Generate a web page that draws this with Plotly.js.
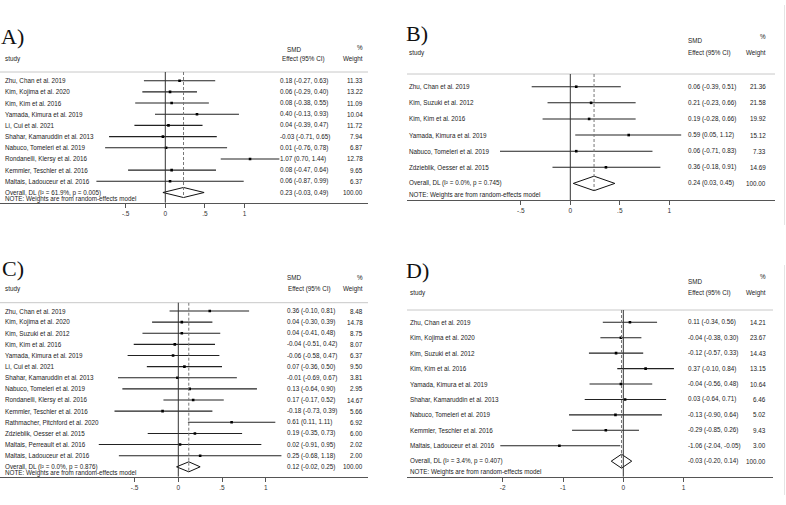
<!DOCTYPE html>
<html><head><meta charset="utf-8">
<script src="https://cdn.plot.ly/plotly-3.0.1.min.js"></script>
<style>html,body{margin:0;padding:0;background:#fff}#chart{width:786px;height:505px}</style>
</head><body><div id="chart"></div>
<script>
// ---------- DATA ----------
const studiesA = ["Zhu, Chan et al. 2019","Kim, Kojima et al. 2020","Kim, Kim et al. 2016","Yamada, Kimura et al. 2019","Li, Cui et al. 2021","Shahar, Kamaruddin et al. 2013","Nabuco, Tomeleri et al. 2019","Rondanelli, Klersy et al. 2016","Kemmler, Teschler et al. 2016","Maltais, Ladouceur et al. 2016"];
const estA = [0.18, 0.06, 0.08, 0.40, 0.04, -0.03, 0.01, 1.07, 0.08, 0.06];
const loA  = [-0.27, -0.29, -0.38, -0.13, -0.39, -0.71, -0.76, 0.70, -0.47, -0.87];
const hiA  = [0.63, 0.40, 0.55, 0.93, 0.47, 0.65, 0.78, 1.44, 0.64, 0.99];
const wtA  = [11.33, 13.22, 11.09, 10.04, 11.72, 7.94, 6.87, 12.78, 9.65, 6.37];
const overallA = [0.23, -0.03, 0.49];
const hetA = ["61.9%", "0.005"];

const studiesB = ["Zhu, Chan et al. 2019","Kim, Suzuki et al. 2012","Kim, Kim et al. 2016","Yamada, Kimura et al. 2019","Nabuco, Tomeleri et al. 2019","Zdzieblik, Oesser et al. 2015"];
const estB = [0.06, 0.21, 0.19, 0.59, 0.06, 0.36];
const loB  = [-0.39, -0.23, -0.28, 0.05, -0.71, -0.18];
const hiB  = [0.51, 0.66, 0.66, 1.12, 0.83, 0.91];
const wtB  = [21.36, 21.58, 19.92, 15.12, 7.33, 14.69];
const overallB = [0.24, 0.03, 0.45];
const hetB = ["0.0%", "0.745"];

const studiesC = ["Zhu, Chan et al. 2019","Kim, Kojima et al. 2020","Kim, Suzuki et al. 2012","Kim, Kim et al. 2016","Yamada, Kimura et al. 2019","Li, Cui et al. 2021","Shahar, Kamaruddin et al. 2013","Nabuco, Tomeleri et al. 2019","Rondanelli, Klersy et al. 2016","Kemmler, Teschler et al. 2016","Rathmacher, Pitchford et al. 2020","Zdzieblik, Oesser et al. 2015","Maltais, Perreault et al. 2016","Maltais, Ladouceur et al. 2016"];
const estC = [0.36, 0.04, 0.04, -0.04, -0.06, 0.07, -0.01, 0.13, 0.17, -0.18, 0.61, 0.19, 0.02, 0.25];
const loC  = [-0.10, -0.30, -0.41, -0.51, -0.58, -0.36, -0.69, -0.64, -0.17, -0.73, 0.11, -0.35, -0.91, -0.68];
const hiC  = [0.81, 0.39, 0.48, 0.42, 0.47, 0.50, 0.67, 0.90, 0.52, 0.39, 1.11, 0.73, 0.95, 1.18];
const wtC  = [8.48, 14.78, 8.75, 8.07, 6.37, 9.50, 3.81, 2.95, 14.67, 5.66, 6.92, 6.00, 2.02, 2.00];
const overallC = [0.12, -0.02, 0.25];
const hetC = ["0.0%", "0.876"];

const studiesD = ["Zhu, Chan et al. 2019","Kim, Kojima et al. 2020","Kim, Suzuki et al. 2012","Kim, Kim et al. 2016","Yamada, Kimura et al. 2019","Shahar, Kamaruddin et al. 2013","Nabuco, Tomeleri et al. 2019","Kemmler, Teschler et al. 2016","Maltais, Ladouceur et al. 2016"];
const estD = [0.11, -0.04, -0.12, 0.37, -0.04, 0.03, -0.13, -0.29, -1.06];
const loD  = [-0.34, -0.38, -0.57, -0.10, -0.56, -0.64, -0.90, -0.85, -2.04];
const hiD  = [0.56, 0.30, 0.33, 0.84, 0.48, 0.71, 0.64, 0.26, -0.05];
const wtD  = [14.21, 23.67, 14.43, 13.15, 10.64, 6.46, 5.02, 9.43, 3.00];
const overallD = [-0.03, -0.20, 0.14];
const hetD = ["3.4%", "0.407"];

const tickValsABC = [-0.5, 0, 0.5, 1];
const tickTextABC = ["-.5", "0", ".5", "1"];
const tickValsD = [-2, -1, 0, 1];
const tickTextD = ["-2", "-1", "0", "1"];
const panelLabels = ["A)", "B)", "C)", "D)"];

// ---------- GEOMETRY (pixels) ----------
const W = 786, H = 505;
const geo = [
  {L:0,   R:368, top:72,    axis:202.7, row1:80.7,  s:11.18, z0:165.3, k:79.2, studyX:4,   effX:278.5, effHX:281, smdX:285.5, wRight:364, smdY:50,    hdrY:59,    pctY:48,    labX:0,   labY:37,  note:0.59},
  {L:407, R:775, top:74,    axis:200,   row1:86.7,  s:16.12, z0:570.3, k:99,   studyX:408, effX:687,   effHX:687, smdX:687,   wRight:767, smdY:40.7,  hdrY:53.3,  pctY:37,    labX:405, labY:33,  note:0.71},
  {L:0,   R:368, top:302.7, axis:476.7, row1:311,   s:11.13, z0:178.3, k:87.4, studyX:4,   effX:286,   effHX:286.5,smdX:286, wRight:364, smdY:277,   hdrY:288.7, pctY:277.7, labX:1,   labY:268, note:0.59},
  {L:407, R:773, top:310,   axis:476.7, row1:322.3, s:15.43, z0:623.3, k:60.3, studyX:409, effX:687,   effHX:687, smdX:687,   wRight:767, smdY:281.7, hdrY:292.7, pctY:276.7, labX:405, labY:270, note:0.71}
];
const panels = [
  {studies:studiesA, est:estA, lo:loA, hi:hiA, wt:wtA, overall:overallA, het:hetA, tv:tickValsABC, tt:tickTextABC},
  {studies:studiesB, est:estB, lo:loB, hi:hiB, wt:wtB, overall:overallB, het:hetB, tv:tickValsABC, tt:tickTextABC},
  {studies:studiesC, est:estC, lo:loC, hi:hiC, wt:wtC, overall:overallC, het:hetC, tv:tickValsABC, tt:tickTextABC},
  {studies:studiesD, est:estD, lo:loD, hi:hiD, wt:wtD, overall:overallD, het:hetD, tv:tickValsD, tt:tickTextD}
];

const FONT = "Liberation Sans, Arial, Helvetica, sans-serif";
const FS = 6.3;
const TXT = "#222";
const px = x => x / W;
const py = y => 1 - y / H;
const fmt = v => v.toFixed(2);

const traces = [], annotations = [], shapes = [];
const layout = {
  width: W, height: H, margin: {l:0, r:0, t:0, b:0},
  paper_bgcolor: "#fff", plot_bgcolor: "rgba(0,0,0,0)", showlegend: false,
  annotations, shapes
};

panels.forEach((d, i) => {
  const g = geo[i];
  const n = d.studies.length;
  const sfx = i === 0 ? "" : String(i + 1);
  const xr = "x" + sfx, yr = "y" + sfx;
  const rows = d.studies.map((_, j) => j + 1);
  const oRow = n + 1;
  const yTopVal = 1 + (g.top - g.row1) / g.s;
  const yBotVal = 1 + (g.axis - g.row1) / g.s;

  layout["xaxis" + sfx] = {
    domain: [px(g.L), px(g.R)],
    range: [(g.L - g.z0) / g.k, (g.R - g.z0) / g.k],
    anchor: yr, showgrid: false, zeroline: false,
    showline: true, linecolor: "#555", linewidth: 1,
    ticks: "outside", ticklen: 4, tickwidth: 1, tickcolor: "#555",
    tickvals: d.tv, ticktext: d.tt,
    tickfont: {family: FONT, size: 6.5, color: "#333"},
    fixedrange: true
  };
  layout["yaxis" + sfx] = {
    domain: [py(g.axis), py(g.top)],
    range: [yBotVal, yTopVal],
    anchor: xr, visible: false, showgrid: false, zeroline: false, fixedrange: true
  };

  // CI lines
  const cx = [], cy = [];
  rows.forEach((r, j) => { cx.push(d.lo[j], d.hi[j], null); cy.push(r, r, null); });
  traces.push({type: "scatter", mode: "lines", x: cx, y: cy, xaxis: xr, yaxis: yr,
    line: {color: "#222", width: 1.1}, hoverinfo: "skip"});
  // point estimates
  traces.push({type: "scatter", mode: "markers", x: d.est, y: rows, xaxis: xr, yaxis: yr,
    marker: {symbol: "square", size: 2.6, color: "#000"}, hoverinfo: "skip"});
  // diamond
  const h = 0.45;
  const [oe, ol, oh] = d.overall;
  traces.push({type: "scatter", mode: "lines",
    x: [ol, oe, oh, oe, ol], y: [oRow, oRow - h, oRow, oRow + h, oRow],
    xaxis: xr, yaxis: yr, fill: "toself", fillcolor: "#fff",
    line: {color: "#111", width: 1}, hoverinfo: "skip"});

  // top rule
  shapes.push({type: "line", xref: "paper", yref: "paper", x0: px(g.L), x1: px(g.R), y0: py(g.top), y1: py(g.top),
    line: {color: "#c8c8c8", width: 1}});
  // no-effect line
  shapes.push({type: "line", xref: xr, yref: yr + " domain", x0: 0, x1: 0, y0: 0, y1: 1,
    line: {color: "#333", width: 1}});
  // overall dashed line
  shapes.push({type: "line", xref: xr, yref: yr, x0: oe, x1: oe, y0: yTopVal, y1: oRow + h,
    line: {color: "#777", width: 1, dash: "3px,2px"}});

  const font = {family: FONT, size: FS, color: TXT};
  const A = (text, x, y, yref, xanchor, extra) => annotations.push(Object.assign({
    text, x: px(x), xref: "paper", y, yref, xanchor, yanchor: "middle",
    showarrow: false, font, borderpad: 0
  }, extra || {}));

  // panel label
  A(panelLabels[i], g.labX, py(g.labY), "paper", "left",
    {font: {family: "Liberation Serif, Times New Roman, serif", size: 22, color: "#111"}});
  // headers
  A("study", g.studyX, py(g.hdrY), "paper", "left");
  A("SMD", g.smdX, py(g.smdY), "paper", "left");
  A("Effect (95% CI)", g.effHX, py(g.hdrY), "paper", "left");
  A("%", g.wRight, py(g.pctY), "paper", "right");
  A("Weight", g.wRight, py(g.hdrY), "paper", "right");
  // rows
  rows.forEach((r, j) => {
    A(d.studies[j], g.studyX, r, yr, "left");
    A(fmt(d.est[j]) + " (" + fmt(d.lo[j]) + ", " + fmt(d.hi[j]) + ")", g.effX, r, yr, "left");
    A(fmt(d.wt[j]), g.wRight, r, yr, "right");
  });
  A("Overall, DL (I\u00B2 = " + d.het[0] + ", p = " + d.het[1] + ")", g.studyX, oRow, yr, "left");
  A(fmt(oe) + " (" + fmt(ol) + ", " + fmt(oh) + ")", g.effX, oRow, yr, "left");
  A("100.00", g.wRight, oRow, yr, "right");
  A("NOTE: Weights are from random-effects model", g.studyX, oRow + g.note, yr, "left");
});

// faint image borders on the right
shapes.push({type: "line", xref: "paper", yref: "paper", x0: px(784.5), x1: px(784.5), y0: py(5), y1: py(225), line: {color: "#e4e4e4", width: 1}});
shapes.push({type: "line", xref: "paper", yref: "paper", x0: px(784.5), x1: px(784.5), y0: py(265), y1: py(495), line: {color: "#e4e4e4", width: 1}});

Plotly.newPlot("chart", traces, layout, {staticPlot: true, displayModeBar: false});
</script>
</body></html>
